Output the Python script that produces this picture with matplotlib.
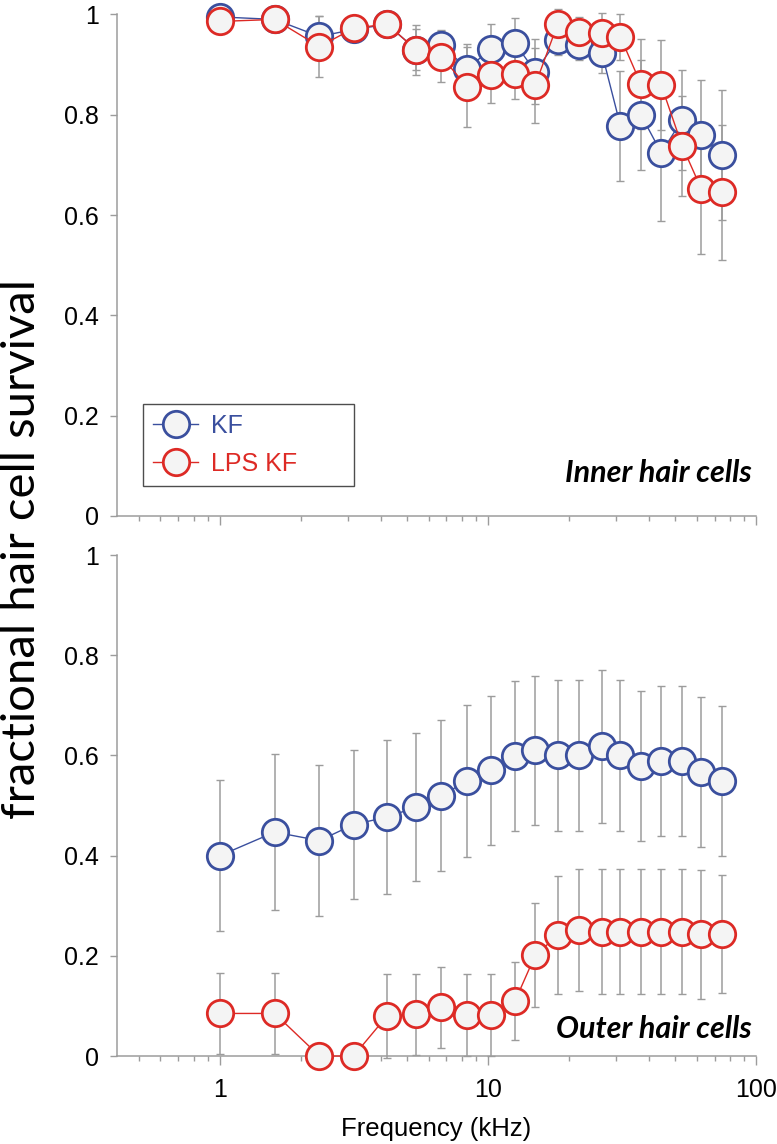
import matplotlib
matplotlib.use("Agg")
import matplotlib.pyplot as plt
from matplotlib.lines import Line2D
from matplotlib.ticker import FixedLocator, FixedFormatter, LogLocator, NullFormatter

plt.rcParams['font.family'] = ['Liberation Sans', 'DejaVu Sans']

# frequency (kHz), same sampling for both groups
freq = [1.0, 1.6, 2.35, 3.15, 4.2, 5.4, 6.7, 8.35, 10.3, 12.6,
        15.0, 18.2, 21.8, 26.6, 31.2, 37.2, 44.3, 53.0, 62.5, 74.5]

# inner hair cells
ihc_kf = [0.995, 0.99, 0.956, 0.97, 0.98, 0.93, 0.939, 0.892, 0.931, 0.943,
          0.886, 0.949, 0.939, 0.923, 0.778, 0.80, 0.724, 0.79, 0.76, 0.72]
ihc_kf_err = [0.01, 0.01, 0.04, 0.01, 0.01, 0.04, 0.03, 0.05, 0.05, 0.05,
              0.064, 0.03, 0.03, 0.04, 0.11, 0.11, 0.135, 0.10, 0.11, 0.13]
ihc_lps = [0.986, 0.99, 0.936, 0.972, 0.981, 0.929, 0.916, 0.856, 0.879, 0.881,
           0.859, 0.981, 0.964, 0.962, 0.955, 0.861, 0.859, 0.738, 0.652, 0.645]
ihc_lps_err = [0.01, 0.01, 0.06, 0.01, 0.01, 0.05, 0.05, 0.08, 0.055, 0.05,
               0.075, 0.03, 0.03, 0.04, 0.045, 0.09, 0.09, 0.10, 0.13, 0.135]

# outer hair cells
ohc_kf = [0.40, 0.447, 0.43, 0.462, 0.477, 0.497, 0.52, 0.549, 0.57, 0.599,
          0.61, 0.60, 0.60, 0.618, 0.60, 0.579, 0.589, 0.589, 0.567, 0.549]
ohc_kf_err = [0.15, 0.155, 0.15, 0.148, 0.153, 0.148, 0.151, 0.152, 0.148, 0.15,
              0.148, 0.15, 0.15, 0.153, 0.15, 0.15, 0.15, 0.15, 0.15, 0.15]
ohc_lps = [0.085, 0.085, 0.0, 0.0, 0.08, 0.083, 0.097, 0.082, 0.082, 0.109,
           0.201, 0.241, 0.251, 0.248, 0.248, 0.248, 0.248, 0.248, 0.243, 0.243]
ohc_lps_err = [0.08, 0.08, 0.0, 0.0, 0.083, 0.08, 0.08, 0.081, 0.081, 0.078,
               0.104, 0.118, 0.122, 0.125, 0.125, 0.125, 0.125, 0.125, 0.129, 0.118]

yticks = [0, 0.2, 0.4, 0.6, 0.8, 1]
ytick_labels = ['0', '0.2', '0.4', '0.6', '0.8', '1']
xticks = [1, 10, 100]
xtick_labels = ['1', '10', '100']

BLUE = '#3a4f9e'
RED = '#dd2a25'
FACE = '#f4f4f4'
GRAY = '#9c9c9c'


def draw_series(ax, y, err, color, z):
    ax.errorbar(freq, y, yerr=err, fmt='none', ecolor=GRAY, elinewidth=1.1,
                capsize=2.6, capthick=1.0, zorder=1, clip_on=False)
    ax.plot(freq, y, '-', color=color, lw=1.0, marker='o', ms=19,
            mfc=FACE, mec=color, mew=2.0, zorder=z, clip_on=False)


def style_axes(ax, show_xlabels):
    ax.set_xscale('log')
    ax.set_xlim(0.413, 100)
    ax.set_ylim(0, 1)
    for s in ['top', 'right']:
        ax.spines[s].set_visible(False)
    for s in ['left', 'bottom']:
        ax.spines[s].set_color(GRAY)
        ax.spines[s].set_linewidth(1.1)
    ax.yaxis.set_major_locator(FixedLocator(yticks))
    ax.yaxis.set_major_formatter(FixedFormatter(ytick_labels))
    ax.xaxis.set_major_locator(FixedLocator(xticks))
    ax.xaxis.set_minor_locator(LogLocator(base=10, subs=range(2, 10)))
    ax.xaxis.set_minor_formatter(NullFormatter())
    if show_xlabels:
        ax.xaxis.set_major_formatter(FixedFormatter(xtick_labels))
    else:
        ax.xaxis.set_major_formatter(NullFormatter())
    ax.tick_params(axis='y', which='major', direction='out', length=5,
                   width=1, color=GRAY, labelsize=18, pad=8)
    ax.tick_params(axis='x', which='major', direction='out', length=6.5,
                   width=1, color=GRAY, labelsize=18, pad=9)
    ax.tick_params(axis='x', which='minor', direction='out', length=3.5,
                   width=1, color=GRAY)


fig = plt.figure(figsize=(7.77, 11.44), dpi=100)
ax_top = fig.add_axes([0.1506, 0.549, 0.8224, 0.4384])
ax_bot = fig.add_axes([0.1506, 0.0769, 0.8224, 0.4379])

draw_series(ax_top, ihc_kf, ihc_kf_err, BLUE, 3)
draw_series(ax_top, ihc_lps, ihc_lps_err, RED, 4)
draw_series(ax_bot, ohc_kf, ohc_kf_err, BLUE, 3)
draw_series(ax_bot, ohc_lps, ohc_lps_err, RED, 4)

style_axes(ax_top, False)
style_axes(ax_bot, True)

ax_bot.set_xlabel('Frequency (kHz)', fontsize=18.5, labelpad=11)

label_font = ['Lato', 'DejaVu Sans']
ax_top.text(0.994, 0.086, 'Inner hair cells', transform=ax_top.transAxes,
            ha='right', va='center', fontsize=22, fontweight='bold',
            fontstyle='italic', family=label_font)
ax_bot.text(0.994, 0.054, 'Outer hair cells', transform=ax_bot.transAxes,
            ha='right', va='center', fontsize=22, fontweight='bold',
            fontstyle='italic', family=label_font)

handles = [
    Line2D([], [], color=BLUE, lw=1.0, marker='o', ms=19, mfc=FACE, mec=BLUE, mew=2.0),
    Line2D([], [], color=RED, lw=1.0, marker='o', ms=19, mfc=FACE, mec=RED, mew=2.0),
]
leg = ax_top.legend(handles, ['KF', 'LPS KF'], loc='lower left',
                    bbox_to_anchor=(0.0407, 0.06, 0.330, 0.16), mode='expand',
                    borderaxespad=0, fontsize=18, frameon=True, fancybox=False,
                    handlelength=1.8, handletextpad=0.5, labelspacing=0.55,
                    borderpad=0.4)
leg.get_frame().set_edgecolor('#222222')
leg.get_frame().set_linewidth(1.0)
for txt, c in zip(leg.get_texts(), [BLUE, RED]):
    txt.set_color(c)

fig.text(0.028, 0.52, 'fractional hair cell survival', rotation=90,
         ha='center', va='center', fontsize=34, family=['Lato', 'DejaVu Sans'])

fig.savefig('out.png', dpi=100, facecolor='white')
